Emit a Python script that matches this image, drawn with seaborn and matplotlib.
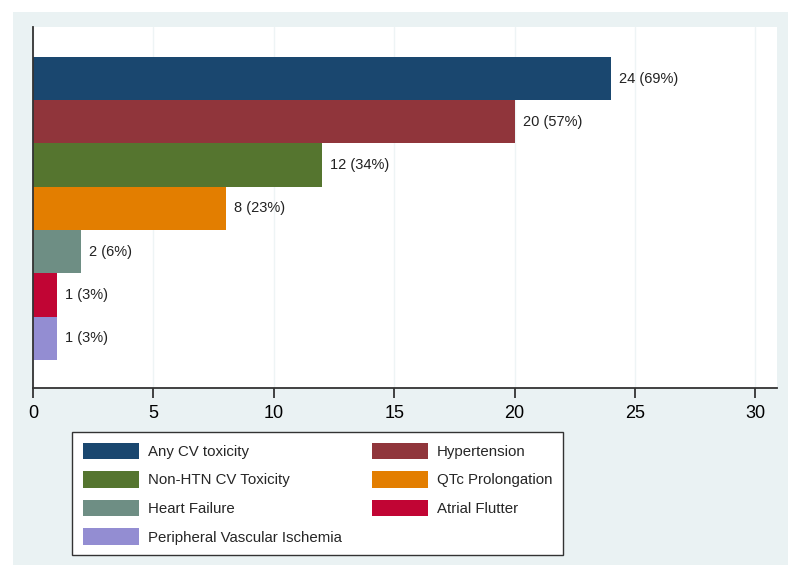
import matplotlib.pyplot as plt
import matplotlib.patches as mpatches
import pandas as pd
import seaborn as sns

categories = ["Any CV toxicity", "Hypertension", "Non-HTN CV Toxicity", "QTc Prolongation",
              "Heart Failure", "Atrial Flutter", "Peripheral Vascular Ischemia"]
counts = [24, 20, 12, 8, 2, 1, 1]
percents = [69, 57, 34, 23, 6, 3, 3]
colors = ["#1a476f", "#90353b", "#55752f", "#e37e00", "#6e8e84", "#c10534", "#938dd2"]

df = pd.DataFrame({"category": categories, "count": counts})

sns.set_style("white", {"xtick.bottom": True})
plt.rcParams["font.family"] = ["Liberation Sans", "DejaVu Sans"]
plt.rcParams["xtick.major.size"] = 6

W, H = 800, 578
fig = plt.figure(figsize=(8, 5.78), dpi=100, facecolor="white")

# light panel behind everything (Stata s2color look)
fig.patches.append(mpatches.Rectangle((13 / W, 1 - 565 / H), (788 - 13) / W, (565 - 12) / H,
                                      transform=fig.transFigure, facecolor="#eaf2f3",
                                      edgecolor="none", zorder=-5))

ax = fig.add_axes([33 / W, 1 - 388 / H, (777 - 33) / W, (388 - 27) / H])
ax.set_zorder(2)
ax.set_facecolor("white")

sns.barplot(data=df, y="category", x="count", hue="category", palette=colors,
            width=1.0, orient="h", dodge=False, legend=False, ax=ax,
            edgecolor="none", linewidth=0, saturation=1)

for cont, n, p in zip(ax.containers, counts, percents):
    ax.bar_label(cont, labels=[f"{n} ({p}%)"], padding=6, fontsize=10.5, color="#222222")

ax.set_xlim(0, 30.9)
ax.set_ylim(7.15, -1.19)
ax.set_xticks([0, 5, 10, 15, 20, 25, 30])
ax.set_yticks([])
ax.set_xlabel("")
ax.set_ylabel("")
ax.tick_params(axis="x", direction="out", length=7, width=1.3, color="#333333",
               labelsize=13, pad=5, labelcolor="black", bottom=True)
ax.grid(axis="x", color="#eef4f5", linewidth=1)
ax.set_axisbelow(True)
for side in ["top", "right"]:
    ax.spines[side].set_visible(False)
for side in ["left", "bottom"]:
    ax.spines[side].set_color("#333333")
    ax.spines[side].set_linewidth(1.3)

handles = [mpatches.Patch(facecolor=c, edgecolor="none", label=l) for c, l in zip(colors, categories)]
order = [0, 2, 4, 6, 1, 3, 5]
leg = fig.legend([handles[i] for i in order], [categories[i] for i in order],
                 ncol=2, loc="upper left", bbox_to_anchor=(72 / W, 1 - 432 / H),
                 frameon=True, fancybox=False, shadow=False, fontsize=10.8, framealpha=1,
                 handlelength=3.75, handleheight=1.35, handletextpad=0.6,
                 labelspacing=0.78, columnspacing=2.0, borderpad=0.7, borderaxespad=0)
leg.get_frame().set_edgecolor("#333333")
leg.get_frame().set_linewidth(1.0)
leg.set_zorder(3)

fig.savefig("out.png", dpi=100, facecolor="white")
